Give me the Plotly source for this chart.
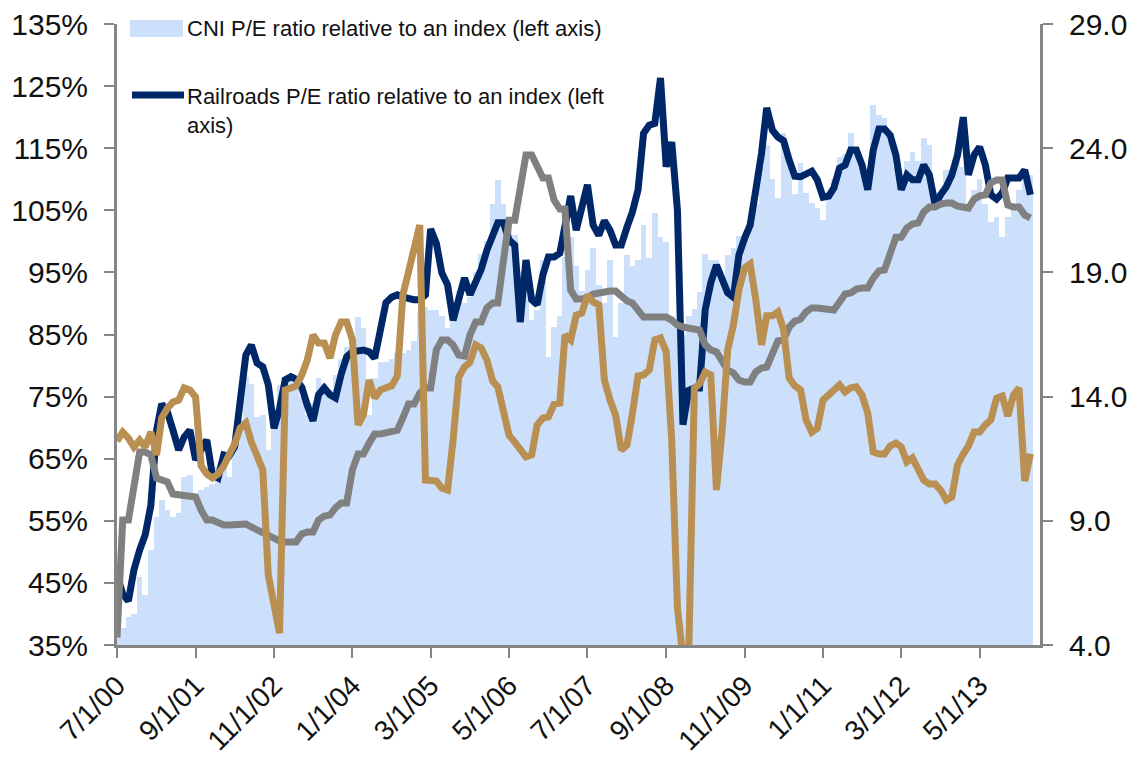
import pandas as pd
import plotly.graph_objects as go

FONT = "Liberation Sans, Arial, sans-serif"

# monthly observations, starting July 2000
START_MONTH = "2000-07-01"

# CNI P/E ratio relative to an index (left axis, %)
cni_rel = [
    37.5, 37.7, 39.5, 40.0, 46.0, 43.0, 50.3, 55.6, 58.3, 56.7,
    55.6, 56.3, 62.0, 62.4, 58.8, 60.0, 60.5, 61.0, 63.7, 63.7,
    62.0, 66.9, 71.2, 78.2, 77.0, 71.7, 72.0, 66.4, 70.0, 76.8,
    77.5, 78.0, 77.7, 75.0, 72.0, 74.0, 78.0, 77.0, 76.0, 78.5,
    81.0, 83.0, 84.0, 87.8, 86.0, 72.0, 78.0, 80.6, 80.6, 81.0,
    82.0, 82.0, 82.5, 84.0, 88.5, 89.4, 89.0, 89.0, 88.0, 86.0,
    90.0, 92.0, 90.0, 91.0, 95.0, 98.0, 100.0, 106.0, 109.9, 106.0,
    104.0, 101.0, 95.0, 92.0, 87.3, 89.0, 97.0, 81.4, 86.2, 88.0,
    97.5, 100.7, 96.0, 92.0, 95.4, 99.0, 93.0, 90.0, 97.0, 84.6,
    90.0, 97.8, 96.0, 97.0, 102.6, 97.3, 104.6, 100.7, 99.9, 88.0,
    86.0, 85.0, 88.0, 89.1, 91.8, 98.0, 97.0, 97.0, 94.2, 97.8,
    99.0, 100.8, 100.8, 102.0, 106.0, 112.0, 115.5, 110.0, 107.0, 117.4,
    113.0, 107.6, 112.6, 107.8, 106.2, 105.4, 103.4, 108.0, 110.0, 113.6,
    114.0, 117.4, 115.0, 112.0, 110.0, 122.0, 120.3, 119.9, 116.3, 112.0,
    110.0, 113.0, 114.4, 113.0, 116.6, 115.5, 108.0, 107.0, 111.5, 111.5,
    113.0, 112.0, 106.0, 108.3, 110.0, 106.0, 103.1, 104.0, 100.7, 104.0,
    106.0, 108.3, 109.9, 110.7,
]

# Railroads P/E ratio relative to an index (left axis, %)
railroads_rel = [
    46.3, 43.2, 42.1, 47.1, 50.3, 52.7, 57.5, 69.6, 73.8, 72.5,
    69.6, 66.4, 68.5, 69.6, 64.8, 66.4, 68.0, 62.4, 61.9, 65.6,
    65.4, 66.9, 74.5, 81.7, 83.3, 80.4, 79.8, 76.9, 69.9, 73.0,
    77.7, 78.2, 77.8, 76.5, 73.6, 71.1, 75.3, 76.4, 75.3, 74.8,
    78.6, 81.4, 82.2, 82.5, 82.5, 82.2, 81.2, 85.7, 90.1, 91.0,
    91.4, 91.0, 90.7, 90.6, 90.6, 91.4, 102.0, 99.7, 94.9, 93.0,
    87.3, 90.6, 94.1, 91.4, 93.3, 95.5, 98.6, 101.3, 103.0, 103.0,
    100.2, 99.4, 87.0, 97.0, 90.6, 89.8, 94.6, 97.5, 97.5, 98.1,
    102.6, 107.3, 101.8, 105.9, 109.1, 102.6, 101.0, 103.3, 101.8, 99.4,
    99.4, 102.3, 104.7, 108.3, 117.4, 118.7, 119.0, 126.3, 112.0, 116.0,
    105.0, 70.5, 76.0, 76.4, 76.4, 89.0, 93.3, 96.2, 93.8, 91.7,
    91.0, 97.8, 100.5, 102.6, 108.3, 114.2, 121.5, 117.9, 116.8, 116.2,
    113.1, 110.5, 110.4, 110.8, 111.3, 109.9, 107.1, 107.3, 108.6, 111.8,
    112.3, 114.7, 114.7, 112.3, 108.3, 114.7, 118.1, 118.1, 117.1, 113.9,
    108.3, 110.7, 109.9, 109.9, 112.3, 110.7, 105.9, 107.5, 108.8, 110.7,
    113.9, 120.0, 110.7, 113.9, 115.2, 112.3, 107.5, 106.8, 107.8, 110.2,
    110.2, 110.2, 111.5, 107.5,
]

# grey series (right axis)
grey_series = [
    4.3, 9.03, 9.03, 10.44, 11.77, 11.77, 11.65, 10.72, 10.64, 10.56,
    10.08, 10.04, 10.0, 9.96, 9.96, 9.43, 9.03, 9.03, 8.91, 8.83,
    8.83, 8.83, 8.87, 8.87, 8.75, 8.63, 8.47, 8.35, 8.23, 8.19,
    8.15, 8.15, 8.15, 8.47, 8.55, 8.55, 9.03, 9.19, 9.23, 9.52,
    9.72, 9.72, 11.05, 11.69, 11.69, 12.13, 12.49, 12.49, 12.53, 12.61,
    12.65, 13.14, 13.70, 13.70, 14.14, 14.35, 14.35, 15.88, 16.28, 16.28,
    16.08, 15.67, 15.63, 16.48, 17.0, 17.0, 17.57, 17.77, 17.77, 19.5,
    21.1, 21.1, 22.5, 23.73, 23.73, 23.2, 22.8, 22.8, 21.91, 21.55,
    21.55, 18.29, 17.93, 17.93, 17.97, 18.13, 18.17, 18.25, 18.25, 18.25,
    18.05, 17.85, 17.77, 17.49, 17.2, 17.2, 17.2, 17.2, 17.2, 17.08,
    16.88, 16.8, 16.76, 16.72, 16.68, 16.08, 15.88, 15.8, 15.47, 15.07,
    14.95, 14.67, 14.59, 14.59, 15.0, 15.15, 15.19, 15.8, 16.24, 16.28,
    16.8, 17.04, 17.12, 17.41, 17.57, 17.57, 17.53, 17.49, 17.49, 17.81,
    18.13, 18.17, 18.33, 18.37, 18.37, 18.77, 19.06, 19.1, 19.7, 20.42,
    20.42, 20.79, 20.95, 20.99, 21.43, 21.63, 21.63, 21.75, 21.79, 21.79,
    21.67, 21.59, 21.59, 21.95, 22.08, 22.12, 22.6, 22.72, 22.72, 21.71,
    21.63, 21.63, 21.31, 21.19,
]

# gold series (right axis)
gold_series = [
    12.21, 12.57, 12.33, 11.97, 12.25, 11.97, 12.57, 11.65, 13.14, 13.54,
    13.78, 13.86, 14.35, 14.27, 13.98, 11.21, 10.88, 10.72, 10.88, 11.21,
    11.65, 12.09, 12.74, 12.94, 12.17, 11.57, 11.05, 6.82, 5.49, 4.48,
    14.27, 14.39, 14.43, 14.87, 15.47, 16.48, 16.16, 16.16, 15.55, 16.48,
    17.0, 17.0, 16.28, 12.86, 13.26, 14.67, 13.94, 14.27, 14.35, 14.43,
    14.83, 18.09, 19.02, 20.1, 20.91, 10.64, 10.6, 10.6, 10.32, 10.24,
    12.25, 14.79, 15.19, 15.39, 16.08, 15.96, 15.47, 14.63, 14.39, 13.46,
    12.45, 12.17, 11.85, 11.57, 11.65, 12.86, 13.14, 13.18, 13.70, 13.74,
    16.48, 16.28, 17.28, 17.37, 18.09, 17.81, 17.69, 14.67, 13.86, 13.26,
    11.85, 12.05, 13.3, 14.83, 14.87, 15.07, 16.28, 16.36, 15.8, 12.25,
    5.5, 3.5, 3.5, 14.33, 14.51, 14.99, 14.87, 10.24, 12.57, 15.88,
    16.88, 18.29, 19.18, 19.34, 17.89, 16.08, 17.25, 17.25, 17.41, 16.68,
    14.75, 14.43, 14.27, 13.06, 12.57, 12.73, 13.86, 14.06, 14.27, 14.47,
    14.19, 14.35, 14.39, 14.06, 13.34, 11.77, 11.69, 11.69, 12.01, 12.13,
    11.97, 11.37, 11.53, 11.05, 10.64, 10.48, 10.48, 10.24, 9.84, 9.96,
    11.25, 11.69, 12.01, 12.57, 12.57, 12.86, 13.06, 13.94, 14.02, 13.22,
    14.06, 14.35, 10.6, 11.7,
]

tick_labels = ["7/1/00", "9/1/01", "11/1/02", "1/1/04", "3/1/05", "5/1/06",
               "7/1/07", "9/1/08", "11/1/09", "1/1/11", "3/1/12", "5/1/13"]

CNI_NAME = "CNI P/E ratio relative to an index (left axis)"
RAIL_NAME = "Railroads P/E ratio relative to an index (left<br>axis)"

# target plot area in page pixels; the page body has an 8px margin
PAGE_W, PAGE_H, BODY_MARGIN = 1137, 757, 8
PLOT_L, PLOT_R, PLOT_T, PLOT_B = 117, 1040, 24, 645


def paper_x(px: float) -> float:
    return (px - PLOT_L) / (PLOT_R - PLOT_L)


def paper_y(py: float) -> float:
    return (PLOT_B - py) / (PLOT_B - PLOT_T)


def main() -> None:
    months = pd.date_range(START_MONTH, periods=len(railroads_rel), freq="MS")
    tick_dates = pd.to_datetime(tick_labels, format="%m/%d/%y")

    fig = go.Figure()
    fig.add_trace(
        go.Bar(
            x=months,
            y=cni_rel,
            width=31 * 24 * 3600 * 1000,
            marker=dict(color="#CCE0FC", line=dict(width=0)),
            name=CNI_NAME,
            showlegend=False,
        )
    )
    fig.add_trace(
        go.Scatter(
            x=months,
            y=railroads_rel,
            mode="lines",
            line=dict(color="#002868", width=7),
            name="Railroads",
            showlegend=False,
        )
    )
    fig.add_trace(
        go.Scatter(
            x=months,
            y=grey_series,
            yaxis="y2",
            mode="lines",
            line=dict(color="#808080", width=7),
            showlegend=False,
        )
    )
    fig.add_trace(
        go.Scatter(
            x=months,
            y=gold_series,
            yaxis="y2",
            mode="lines",
            line=dict(color="#B98F52", width=7),
            showlegend=False,
        )
    )

    # hand-made legend, top left inside the plot
    fig.add_shape(type="rect", xref="paper", yref="paper",
                  x0=paper_x(130), x1=paper_x(183), y0=paper_y(37), y1=paper_y(20),
                  fillcolor="#CCE0FC", line=dict(width=0))
    fig.add_shape(type="line", xref="paper", yref="paper",
                  x0=paper_x(132), x1=paper_x(184), y0=paper_y(95), y1=paper_y(95),
                  line=dict(color="#002868", width=7))
    fig.add_annotation(xref="paper", yref="paper", x=paper_x(185), y=paper_y(28),
                       text=CNI_NAME, showarrow=False, xanchor="left", yanchor="middle",
                       align="left", font=dict(size=22, color="#111"))
    fig.add_annotation(xref="paper", yref="paper", x=paper_x(185), y=paper_y(111),
                       text=RAIL_NAME, showarrow=False, xanchor="left", yanchor="middle",
                       align="left", font=dict(size=22, color="#111"))

    axis_common = dict(
        showgrid=False,
        zeroline=False,
        showline=True,
        linecolor="#858585",
        linewidth=3,
        ticks="outside",
        ticklen=10,
        tickwidth=2,
        tickcolor="#858585",
        tickfont=dict(size=30, color="#111"),
        ticklabeloverflow="allow",
        automargin=False,
    )

    fig.update_layout(
        width=PAGE_W - BODY_MARGIN,
        height=PAGE_H - BODY_MARGIN,
        margin=dict(
            l=PLOT_L - BODY_MARGIN,
            r=PAGE_W - PLOT_R,
            t=PLOT_T - BODY_MARGIN,
            b=PAGE_H - PLOT_B,
        ),
        paper_bgcolor="white",
        plot_bgcolor="white",
        font=dict(family=FONT, color="#111"),
        bargap=0,
        showlegend=False,
        xaxis=dict(
            axis_common,
            type="date",
            range=[START_MONTH, "2014-03-25"],
            tickvals=tick_dates,
            ticktext=tick_labels,
            tickangle=-45,
            tickfont=dict(size=28, color="#111"),
        ),
        yaxis=dict(
            axis_common,
            range=[35, 135],
            dtick=10,
            tick0=35,
            ticksuffix="%",
            ticklabelstandoff=10,
        ),
        yaxis2=dict(
            axis_common,
            overlaying="y",
            side="right",
            range=[4, 29],
            dtick=5,
            tick0=4,
            tickformat=".1f",
            ticklabelstandoff=10,
        ),
    )

    fig.write_html("out.html")


if __name__ == "__main__":
    main()
